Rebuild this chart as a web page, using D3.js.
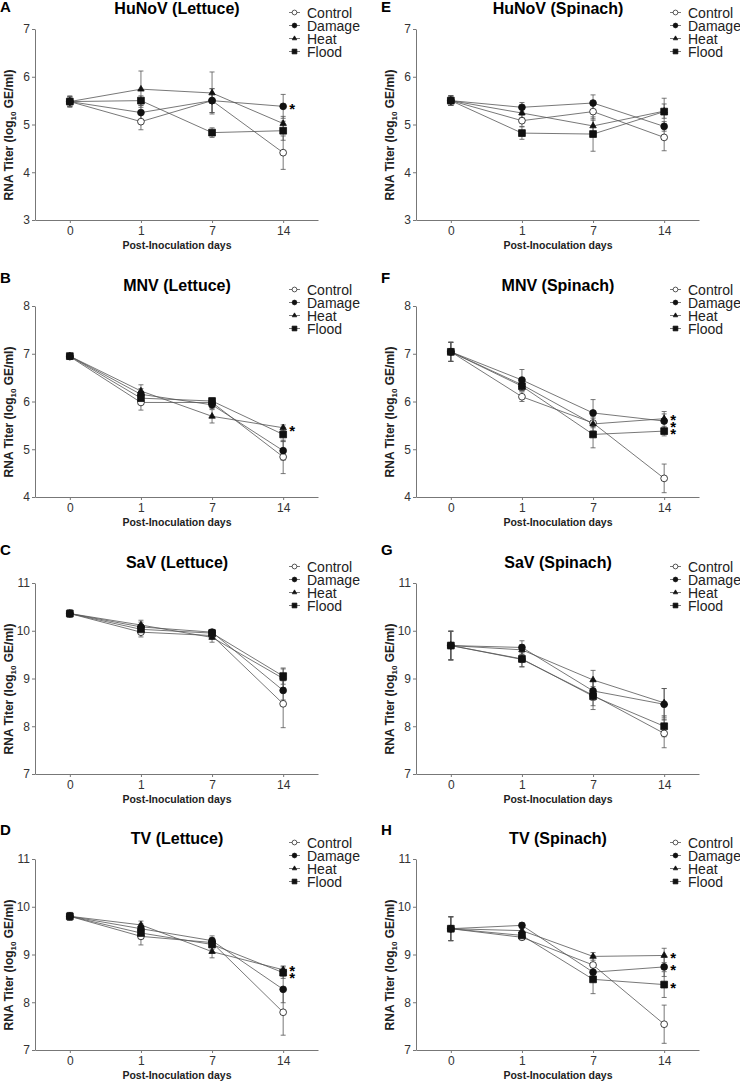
<!DOCTYPE html>
<html>
<head>
<meta charset="utf-8">
<script src="https://cdn.jsdelivr.net/npm/d3@7"></script>
<style>
  body { margin: 0; background: #fff; }
  svg { display: block; font-family: "Liberation Sans", Arial, sans-serif; }
</style>
</head>
<body>
<script>
// x categories and series names
const days = ["0", "1", "7", "14"];
const treatments = ["Control", "Damage", "Heat", "Flood"];

const panelLetters = ["A", "B", "C", "D", "E", "F", "G", "H"];
const panelTitles = ["HuNoV (Lettuce)", "MNV (Lettuce)", "SaV (Lettuce)", "TV (Lettuce)",
                     "HuNoV (Spinach)", "MNV (Spinach)", "SaV (Spinach)", "TV (Spinach)"];
const yDomains = [[3, 7], [4, 8], [7, 11], [7, 11], [3, 7], [4, 8], [7, 11], [7, 11]];

// means, one row per treatment (Control, Damage, Heat, Flood)
const hunovLettuce = [[5.48, 5.06, 5.50, 4.41], [5.48, 5.25, 5.50, 5.38], [5.48, 5.74, 5.66, 5.02], [5.48, 5.50, 4.83, 4.87]];
const mnvLettuce   = [[6.94, 5.98, 5.98, 4.84], [6.95, 6.15, 5.93, 4.97], [6.95, 6.22, 5.69, 5.45], [6.95, 6.07, 6.01, 5.31]];
const savLettuce   = [[10.36, 9.97, 9.90, 8.47], [10.36, 10.08, 9.97, 8.75], [10.36, 10.12, 9.86, 9.00], [10.36, 10.03, 9.95, 9.05]];
const tvLettuce    = [[9.80, 9.38, 9.25, 7.79], [9.80, 9.54, 9.29, 8.27], [9.80, 9.62, 9.06, 8.68], [9.80, 9.45, 9.21, 8.62]];
const hunovSpinach = [[5.50, 5.08, 5.27, 4.73], [5.50, 5.36, 5.45, 4.96], [5.50, 5.24, 4.97, 5.28], [5.50, 4.82, 4.80, 5.27]];
const mnvSpinach   = [[7.04, 6.10, 5.55, 4.39], [7.04, 6.45, 5.76, 5.59], [7.04, 6.35, 5.53, 5.64], [7.04, 6.32, 5.31, 5.38]];
const savSpinach   = [[9.69, 9.40, 8.65, 7.85], [9.69, 9.65, 8.74, 8.46], [9.69, 9.60, 8.97, 8.49], [9.69, 9.41, 8.63, 8.00]];
const tvSpinach    = [[9.54, 9.36, 8.78, 7.54], [9.54, 9.61, 8.63, 8.74], [9.54, 9.50, 8.96, 8.98], [9.54, 9.40, 8.48, 8.37]];

// error bars (SD)
const hunovLettuceErr = [[0.12, 0.17, 0.25, 0.35], [0.10, 0.15, 0.25, 0.25], [0.10, 0.38, 0.44, 0.15], [0.10, 0.10, 0.10, 0.20]];
const mnvLettuceErr   = [[0.05, 0.16, 0.08, 0.35], [0.05, 0.12, 0.08, 0.20], [0.05, 0.13, 0.14, 0.06], [0.05, 0.10, 0.06, 0.15]];
const savLettuceErr   = [[0.07, 0.10, 0.08, 0.50], [0.07, 0.10, 0.06, 0.20], [0.07, 0.10, 0.10, 0.20], [0.07, 0.08, 0.06, 0.17]];
const tvLettuceErr    = [[0.08, 0.18, 0.10, 0.48], [0.08, 0.10, 0.10, 0.28], [0.08, 0.08, 0.13, 0.08], [0.08, 0.12, 0.10, 0.12]];
const hunovSpinachErr = [[0.10, 0.12, 0.15, 0.28], [0.10, 0.10, 0.17, 0.10], [0.10, 0.10, 0.12, 0.15], [0.10, 0.13, 0.36, 0.28]];
const mnvSpinachErr   = [[0.20, 0.10, 0.10, 0.30], [0.20, 0.22, 0.28, 0.20], [0.20, 0.12, 0.15, 0.10], [0.20, 0.10, 0.28, 0.10]];
const savSpinachErr   = [[0.30, 0.15, 0.30, 0.30], [0.30, 0.14, 0.20, 0.33], [0.30, 0.10, 0.20, 0.30], [0.30, 0.17, 0.20, 0.22]];
const tvSpinachErr    = [[0.25, 0.05, 0.20, 0.40], [0.25, 0.05, 0.20, 0.20], [0.25, 0.05, 0.08, 0.15], [0.25, 0.08, 0.30, 0.27]];

// significance stars at day 14
const stars = [["Damage"], ["Heat"], [], ["Heat", "Flood"], [], ["Heat", "Damage", "Flood"], [], ["Heat", "Damage", "Flood"]];

const means = [hunovLettuce, mnvLettuce, savLettuce, tvLettuce, hunovSpinach, mnvSpinach, savSpinach, tvSpinach];
const errs = [hunovLettuceErr, mnvLettuceErr, savLettuceErr, tvLettuceErr, hunovSpinachErr, mnvSpinachErr, savSpinachErr, tvSpinachErr];

// layout
const colX = [0, 381], rowY = [0, 277, 554, 830];
const letterY = [12, 6, 1, 5];
const plotTop = 29, plotBottom = 220, axisX = 35, axisEnd = 318;

const markers = {
    Control: {type: d3.symbolCircle, size: 36, fill: "#fff"},
    Damage:  {type: d3.symbolCircle, size: 36, fill: "#111"},
    Heat:    {type: d3.symbolTriangle, size: 18, fill: "#111"},
    Flood:   {type: d3.symbolSquare, size: 46, fill: "#111"}
};

const svg = d3.select("body").append("svg")
    .attr("width", 740)
    .attr("height", 1081);

panelLetters.forEach((letter, i) => {
    const col = Math.floor(i / 4), row = i % 4;
    const g = svg.append("g")
        .attr("transform", `translate(${colX[col]},${rowY[row]})`);

    const x = d3.scalePoint()
        .domain(days)
        .range([axisX, axisEnd])
        .padding(0.49);

    const y = d3.scaleLinear()
        .domain(yDomains[i])
        .range([plotBottom, plotTop]);

    // axes
    const xAxis = g.append("g")
        .attr("transform", `translate(0,${plotBottom})`)
        .call(d3.axisBottom(x).tickSize(3).tickSizeOuter(0).tickPadding(3));
    const yAxis = g.append("g")
        .attr("transform", `translate(${axisX},0)`)
        .call(d3.axisLeft(y)
            .tickValues(d3.range(yDomains[i][0], yDomains[i][1] + 1))
            .tickFormat(d3.format("d"))
            .tickSize(3).tickSizeOuter(0).tickPadding(2));
    [xAxis, yAxis].forEach(a => {
        a.attr("font-family", null).attr("font-size", 12);
        a.selectAll(".domain, .tick line").attr("stroke", "#777");
        a.selectAll("text").attr("fill", "#333");
    });

    // texts
    g.append("text")
        .attr("x", 0).attr("y", letterY[row])
        .attr("font-size", 15).attr("font-weight", "bold")
        .text(letter);
    g.append("text")
        .attr("x", 177).attr("y", 14)
        .attr("text-anchor", "middle")
        .attr("font-size", 16).attr("font-weight", "bold")
        .text(panelTitles[i]);
    g.append("text")
        .attr("x", 177).attr("y", 249)
        .attr("text-anchor", "middle")
        .attr("font-size", 10.5).attr("font-weight", "bold")
        .attr("fill", "#222")
        .text("Post-Inoculation days");
    const yl = g.append("text")
        .attr("transform", "translate(13,135) rotate(-90)")
        .attr("text-anchor", "middle")
        .attr("font-size", 12).attr("font-weight", "bold")
        .attr("fill", "#222");
    yl.append("tspan").text("RNA Titer (log");
    yl.append("tspan").attr("font-size", 8).attr("dy", 3).text("10");
    yl.append("tspan").attr("dy", -3).text(" GE/ml)");

    const line = d3.line()
        .x((d, j) => x(days[j]))
        .y(d => y(d));

    // lines
    treatments.forEach((t, s) => {
        g.append("path")
            .datum(means[i][s])
            .attr("fill", "none")
            .attr("stroke", "#555")
            .attr("stroke-width", 0.8)
            .attr("d", line);
    });

    // error bars
    treatments.forEach((t, s) => {
        const eb = g.append("g").attr("stroke", "#555").attr("stroke-width", 0.8);
        means[i][s].forEach((m, j) => {
            const e = errs[i][s][j], cx = x(days[j]);
            eb.append("line")
                .attr("x1", cx).attr("x2", cx)
                .attr("y1", y(m - e)).attr("y2", y(m + e));
            [m - e, m + e].forEach(v => {
                eb.append("line")
                    .attr("x1", cx - 2.5).attr("x2", cx + 2.5)
                    .attr("y1", y(v)).attr("y2", y(v));
            });
        });
    });

    // markers
    treatments.forEach((t, s) => {
        const mk = markers[t];
        g.selectAll(null)
            .data(means[i][s])
            .join("path")
            .attr("transform", (d, j) => `translate(${x(days[j])},${y(d)})`)
            .attr("d", d3.symbol(mk.type, mk.size))
            .attr("fill", mk.fill)
            .attr("stroke", "#111")
            .attr("stroke-width", 0.8);
    });

    // stars, pushed apart when they would overlap
    const sy = stars[i]
        .map(t => y(means[i][treatments.indexOf(t)][3]))
        .sort((a, b) => a - b);
    const adj = sy.slice();
    for (let k = 1; k < adj.length; k++) {
        if (adj[k] - adj[k - 1] < 7) adj[k] = adj[k - 1] + 7;
    }
    const shift = adj.length ? (d3.mean(sy) - d3.mean(adj)) : 0;
    adj.forEach(v => {
        g.append("text")
            .attr("x", x("14") + 9).attr("y", v + shift + 8)
            .attr("text-anchor", "middle")
            .attr("font-size", 15).attr("font-weight", "bold")
            .text("*");
    });

    // legend
    const lg = g.append("g").attr("transform", "translate(289,0)");
    treatments.forEach((t, s) => {
        const cy = 12.5 + 13 * s;
        lg.append("line")
            .attr("x1", 0).attr("x2", 11)
            .attr("y1", cy).attr("y2", cy)
            .attr("stroke", "#555").attr("stroke-width", 0.8);
        const mk = markers[t];
        lg.append("path")
            .attr("transform", `translate(5.5,${cy})`)
            .attr("d", d3.symbol(mk.type, mk.size * 0.5))
            .attr("fill", mk.fill)
            .attr("stroke", "#111")
            .attr("stroke-width", 0.7);
        lg.append("text")
            .attr("x", 18).attr("y", cy + 5)
            .attr("font-size", 14)
            .attr("fill", "#222")
            .text(t);
    });
});
</script>
</body>
</html>
